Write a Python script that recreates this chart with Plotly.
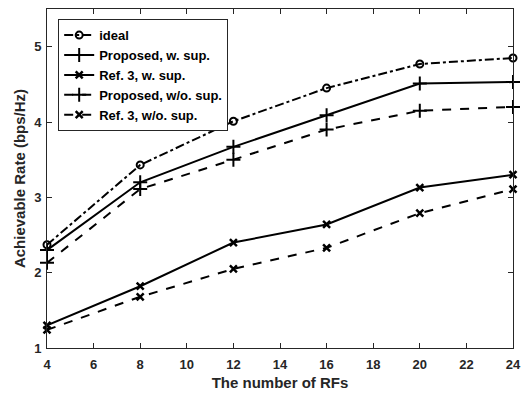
import plotly.graph_objects as go

rfs = [4, 8, 12, 16, 20, 24]
ideal = [2.37, 3.43, 4.01, 4.45, 4.77, 4.85]
prop_w = [2.30, 3.20, 3.67, 4.09, 4.51, 4.53]
ref3_w = [1.30, 1.82, 2.40, 2.64, 3.13, 3.30]
prop_wo = [2.13, 3.11, 3.50, 3.90, 4.15, 4.20]
ref3_wo = [1.24, 1.68, 2.05, 2.33, 2.79, 3.11]

series = [
    ("ideal", ideal, "dashdot", "circle-open", 7, 2),
    ("Proposed, w. sup.", prop_w, "solid", "cross-thin-open", 10, 2),
    ("Ref. 3, w. sup.", ref3_w, "solid", "x-thin-open", 7, 2.5),
    ("Proposed, w/o. sup.", prop_wo, "dash", "cross-thin-open", 10, 2),
    ("Ref. 3, w/o. sup.", ref3_wo, "dash", "x-thin-open", 7, 2.5),
]

FAM = "Liberation Sans, Arial, sans-serif"
fig = go.Figure()
for name, vals, dash, sym, size, mlw in series:
    fig.add_trace(go.Scatter(
        x=rfs, y=vals, name=name, mode="lines+markers",
        line=dict(color="black", width=2, dash=dash),
        marker=dict(symbol=sym, size=size, color="black",
                    line=dict(color="black", width=mlw)),
        cliponaxis=False,
    ))

tickfont = dict(family=FAM, size=13, color="#262626", weight="bold")
titlefont = dict(family=FAM, size=15, color="#262626", weight="bold")
axis_common = dict(
    showline=True, linecolor="#262626", linewidth=1, mirror="ticks",
    ticks="inside", ticklen=5, tickcolor="#262626", showgrid=False,
    zeroline=False, tickfont=tickfont, automargin=False,
)
fig.update_layout(
    width=522, height=394,
    margin=dict(l=47, r=9, t=9, b=46),
    plot_bgcolor="white", paper_bgcolor="white",
    font=tickfont,
    showlegend=True,
    legend=dict(x=0.024, y=0.97, xanchor="left", yanchor="top",
                bgcolor="white", bordercolor="#262626", borderwidth=1,
                font=dict(family=FAM, size=13, color="black", weight="bold"),
                tracegroupgap=0, itemwidth=30),
    xaxis=dict(range=[4, 24], tickvals=list(range(4, 25, 2)),
               ticklabelstandoff=4,
               title=dict(text="The number of RFs", standoff=6, font=titlefont),
               **axis_common),
    yaxis=dict(range=[1, 5.5], tickvals=[1, 2, 3, 4, 5],
               ticklabelstandoff=2,
               title=dict(text="Achievable Rate (bps/Hz)", standoff=4, font=titlefont),
               **axis_common),
)
fig.write_html("out.html", config={"displayModeBar": False},
               post_script="document.body.style.margin='0';")
